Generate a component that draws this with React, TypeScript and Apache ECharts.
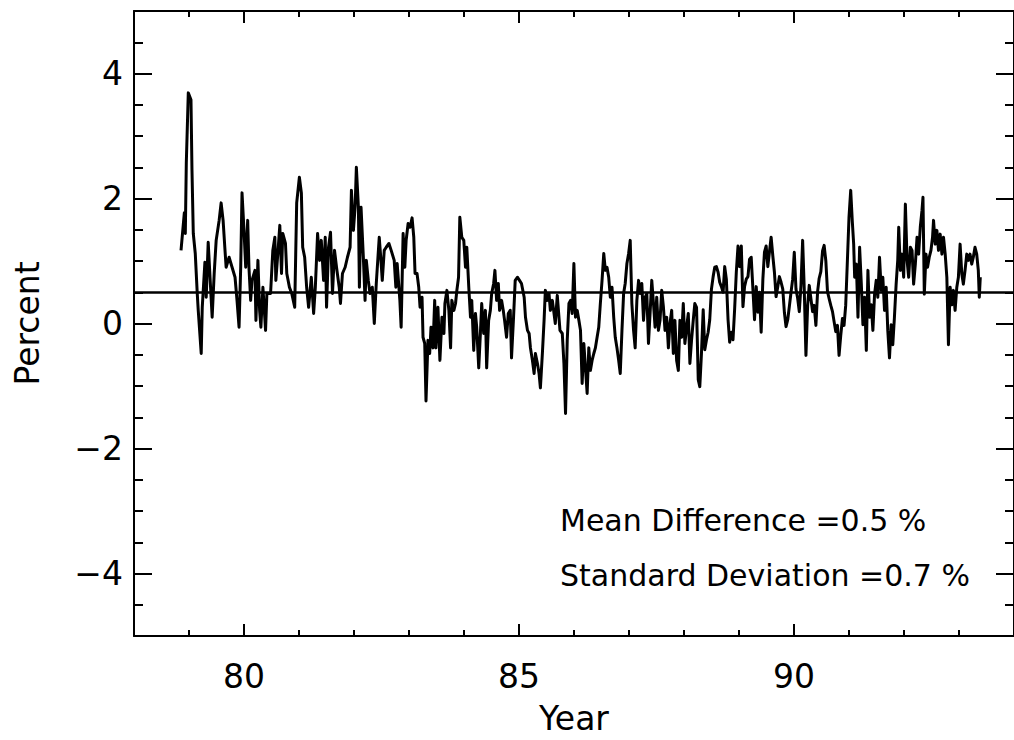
import React, { useEffect, useRef } from "react";
import * as echarts from "echarts";

// Time of each sample (decimal year, 19xx)
const years: number[] = [
  78.855, 78.915, 78.933, 78.951, 78.987, 79.036, 79.054, 79.078, 79.114, 79.150,
  79.168, 79.222, 79.241, 79.289, 79.313, 79.349, 79.398, 79.421, 79.458, 79.494,
  79.548, 79.584, 79.620, 79.651, 79.675, 79.729, 79.783, 79.837, 79.873, 79.910,
  79.940, 79.964, 80.000, 80.031, 80.067, 80.090, 80.121, 80.145, 80.199, 80.217,
  80.253, 80.284, 80.307, 80.344, 80.392, 80.416, 80.483, 80.524, 80.561, 80.579,
  80.615, 80.651, 80.682, 80.705, 80.754, 80.778, 80.826, 80.868, 80.922, 80.958,
  81.007, 81.043, 81.067, 81.103, 81.139, 81.175, 81.224, 81.266, 81.297, 81.338,
  81.374, 81.405, 81.447, 81.477, 81.501, 81.537, 81.573, 81.609, 81.646, 81.682,
  81.731, 81.754, 81.790, 81.839, 81.881, 81.929, 81.953, 81.989, 82.020, 82.043,
  82.080, 82.098, 82.128, 82.170, 82.201, 82.224, 82.260, 82.291, 82.333, 82.369,
  82.405, 82.459, 82.490, 82.514, 82.550, 82.586, 82.635, 82.676, 82.731, 82.761,
  82.785, 82.834, 82.857, 82.893, 82.924, 82.948, 82.984, 83.020, 83.056, 83.087,
  83.110, 83.146, 83.177, 83.201, 83.237, 83.255, 83.286, 83.309, 83.345, 83.376,
  83.400, 83.436, 83.467, 83.490, 83.526, 83.562, 83.599, 83.635, 83.653, 83.689,
  83.725, 83.756, 83.779, 83.816, 83.846, 83.870, 83.901, 83.924, 83.960, 83.996,
  84.027, 84.051, 84.087, 84.118, 84.141, 84.177, 84.208, 84.231, 84.268, 84.298,
  84.322, 84.358, 84.389, 84.412, 84.448, 84.479, 84.503, 84.539, 84.562, 84.593,
  84.624, 84.647, 84.684, 84.714, 84.738, 84.774, 84.805, 84.841, 84.864, 84.901,
  84.931, 84.973, 85.009, 85.045, 85.094, 85.118, 85.154, 85.184, 85.208, 85.244,
  85.275, 85.298, 85.335, 85.365, 85.389, 85.425, 85.456, 85.479, 85.515, 85.546,
  85.570, 85.606, 85.637, 85.660, 85.696, 85.745, 85.787, 85.817, 85.846, 85.877,
  85.908, 85.937, 85.967, 85.998, 86.027, 86.058, 86.089, 86.118, 86.148, 86.179,
  86.208, 86.239, 86.269, 86.298, 86.329, 86.360, 86.389, 86.420, 86.450, 86.479,
  86.510, 86.541, 86.570, 86.600, 86.631, 86.660, 86.691, 86.722, 86.750, 86.781,
  86.812, 86.841, 86.872, 86.902, 86.931, 86.962, 86.993, 87.022, 87.052, 87.083,
  87.112, 87.143, 87.174, 87.203, 87.233, 87.264, 87.293, 87.324, 87.354, 87.383,
  87.414, 87.445, 87.474, 87.504, 87.535, 87.564, 87.595, 87.626, 87.655, 87.685,
  87.716, 87.745, 87.776, 87.806, 87.835, 87.866, 87.897, 87.926, 87.957, 87.987,
  88.016, 88.047, 88.078, 88.107, 88.137, 88.168, 88.197, 88.228, 88.259, 88.287,
  88.318, 88.349, 88.378, 88.409, 88.439, 88.468, 88.499, 88.530, 88.559, 88.589,
  88.620, 88.649, 88.680, 88.711, 88.740, 88.770, 88.801, 88.830, 88.861, 88.891,
  88.920, 88.951, 88.982, 89.011, 89.042, 89.072, 89.101, 89.132, 89.163, 89.192,
  89.222, 89.253, 89.282, 89.313, 89.344, 89.372, 89.403, 89.434, 89.463, 89.494,
  89.524, 89.553, 89.584, 89.615, 89.644, 89.674, 89.705, 89.734, 89.765, 89.796,
  89.825, 89.855, 89.886, 89.915, 89.946, 89.976, 90.005, 90.036, 90.067, 90.096,
  90.127, 90.157, 90.186, 90.217, 90.248, 90.277, 90.307, 90.338, 90.367, 90.398,
  90.429, 90.457, 90.488, 90.519, 90.548, 90.579, 90.609, 90.638, 90.669, 90.700,
  90.729, 90.759, 90.790, 90.819, 90.850, 90.881, 90.910, 90.940, 90.971, 91.000,
  91.031, 91.061, 91.085, 91.103, 91.134, 91.163, 91.193, 91.224, 91.253, 91.284,
  91.315, 91.344, 91.374, 91.405, 91.434, 91.465, 91.495, 91.524, 91.555, 91.586,
  91.615, 91.646, 91.676, 91.705, 91.736, 91.767, 91.796, 91.826, 91.857, 91.886,
  91.904, 91.935, 91.966, 91.994, 92.025, 92.056, 92.085, 92.116, 92.146, 92.175,
  92.206, 92.237, 92.266, 92.296, 92.327, 92.345, 92.369, 92.400, 92.428, 92.459,
  92.490, 92.519, 92.537, 92.568, 92.598, 92.627, 92.658, 92.689, 92.718, 92.749,
  92.779, 92.808, 92.839, 92.870, 92.899, 92.929, 92.960, 92.989, 93.020, 93.051,
  93.079, 93.110, 93.141, 93.170, 93.201, 93.231, 93.260, 93.291, 93.322, 93.351,
  93.369, 93.387,
];

// Percent difference at each sample
const percent: number[] = [
  1.17, 1.77, 1.44, 2.57, 3.69, 3.58, 2.46, 1.44, 1.12, 0.48,
  0.21, -0.48, 0.26, 0.98, 0.42, 1.30, 0.48, 0.10, 0.80, 1.33,
  1.65, 1.93, 1.65, 1.22, 0.90, 1.06, 0.90, 0.74, 0.37, -0.06,
  0.90, 2.09, 1.49, 0.90, 1.65, 0.90, 0.37, 0.69, 0.85, 0.05,
  1.01, 0.21, -0.06, 0.58, -0.11, 0.48, 0.48, 1.17, 1.38, 0.69,
  1.12, 1.57, 0.80, 1.44, 1.28, 0.80, 0.58, 0.48, 0.26, 1.93,
  2.34, 2.09, 1.22, 1.06, 0.58, 0.26, 0.74, 0.16, 0.58, 1.44,
  1.01, 1.33, 0.69, 1.38, 0.26, 1.22, 1.46, 0.48, 1.17, 0.90,
  0.58, 0.32, 0.80, 0.90, 1.06, 1.22, 2.13, 1.49, 1.86, 2.50,
  1.86, 0.58, 1.86, 1.06, 0.37, 1.01, 0.69, 0.48, 0.58, 0.00,
  0.64, 1.38, 1.01, 0.69, 1.17, 1.22, 1.28, 1.17, 1.01, 0.58,
  0.96, 0.37, -0.06, 1.44, 0.90, 1.33, 1.60, 1.54, 1.69, 1.38,
  0.80, 0.80, 0.58, 0.26, 0.42, -0.22, -0.32, -1.24, -0.27, -0.48,
  -0.06, -0.39, 0.37, -0.39, 0.26, -0.59, 0.10, -0.16, 0.32, 0.53,
  0.21, -0.39, 0.37, 0.21, 0.32, 0.53, 0.74, 1.70, 1.38, 1.33,
  0.90, 1.22, 0.58, 0.10, 0.37, -0.43, 0.16, -0.06, -0.71, -0.16,
  0.32, -0.16, 0.21, -0.71, 0.05, 0.21, 0.48, 0.64, 0.85, 0.37,
  0.64, 0.21, 0.37, 0.21, 0.05, -0.22, 0.16, 0.21, -0.55, 0.10,
  0.69, 0.74, 0.69, 0.64, 0.42, 0.10, -0.11, -0.16, -0.39, -0.59,
  -0.80, -0.48, -0.64, -0.80, -1.03, -0.48, 0.05, 0.53, 0.37, 0.48,
  0.21, 0.37, 0.16, 0.00, 0.45, -0.11, -0.16, -0.64, -1.44, -0.27,
  0.32, 0.37, 0.16, 0.96, 0.10, 0.21, 0.05, -0.11, -0.96, -0.32,
  -0.71, -1.12, -0.39, -0.75, -0.59, -0.48, -0.39, -0.22, -0.06, 0.32,
  0.69, 1.12, 0.85, 0.90, 0.74, 0.42, 0.58, 0.10, -0.22, -0.39,
  -0.59, -0.80, -0.11, 0.48, 0.64, 0.96, 1.12, 1.33, 0.32, -0.11,
  -0.39, 0.37, 0.69, 0.48, 0.64, 0.05, 0.42, 0.48, -0.32, 0.16,
  0.69, 0.32, -0.06, 0.42, -0.11, 0.05, 0.53, 0.26, -0.11, 0.10,
  -0.39, 0.00, 0.21, -0.48, 0.05, -0.59, -0.75, 0.05, -0.22, 0.32,
  -0.32, -0.06, 0.16, -0.64, -0.27, 0.05, 0.32, 0.26, -0.90, -1.01,
  -0.47, 0.22, -0.42, -0.26, -0.14, 0.06, 0.55, 0.75, 0.90, 0.91,
  0.82, 0.66, 0.59, 0.50, 0.91, 0.71, 0.06, -0.30, -0.14, -0.26,
  0.22, 0.82, 1.24, 0.91, 1.24, 0.27, 0.59, 0.71, 0.75, 1.03,
  1.06, 0.55, 0.06, 0.59, 0.18, 0.50, -0.14, 0.71, 1.14, 1.24,
  0.91, 1.14, 1.38, 1.08, 0.82, 0.43, 0.59, 0.75, 0.66, 0.55,
  0.18, -0.05, 0.06, 0.27, 0.50, 0.71, 1.14, 0.55, 0.40, 0.19,
  0.61, 1.33, 0.56, -0.51, 0.29, 0.61, 0.40, 0.19, 0.29, -0.03,
  0.51, 0.72, 0.83, 1.16, 1.25, 1.00, 0.51, 0.40, 0.29, 0.19,
  0.03, -0.13, -0.03, -0.51, -0.19, 0.08, -0.03, 0.29, 1.01, 1.70,
  2.13, 1.62, 1.27, 0.74, 0.95, 0.10, 1.22, 0.63, -0.02, 0.42,
  -0.43, 0.85, 0.10, 0.30, -0.11, 0.47, 0.69, 0.42, 1.06, 0.53,
  0.74, 0.21, 0.58, -0.11, -0.55, -0.02, -0.34, 0.10, 0.63, 1.01,
  1.54, 0.85, 1.11, 0.74, 1.91, 1.01, 0.74, 1.22, 1.17, 0.63,
  0.95, 1.38, 1.11, 1.54, 1.81, 2.02, 0.47, 1.11, 0.90, 1.06,
  1.17, 1.38, 1.65, 1.27, 1.49, 1.17, 1.43, 1.11, 1.38, 1.11,
  0.74, -0.34, 0.58, 0.30, 0.53, 0.21, 0.58, 0.74, 1.27, 0.79,
  0.63, 0.85, 1.11, 1.01, 1.11, 0.95, 1.06, 1.22, 1.11, 0.85,
  0.42, 0.74,
];

const xMajorTicks: number[] = [80, 85, 90];
const yMajorTicks: number[] = [-4, -2, 0, 2, 4];
const meanDifference = 0.5;
const standardDeviation = 0.7;

const FONT = "DejaVu Sans";
const BLACK = "#000000";

function xAxisPair(position: "bottom" | "top", withLabels: boolean) {
  const base = { type: "value" as const, min: 78, max: 94, position, splitLine: { show: false } };
  return [
    {
      ...base,
      axisLine: { show: true, onZero: false, lineStyle: { color: BLACK, width: 2 } },
      axisTick: { show: true, inside: true, length: 12, customValues: xMajorTicks, lineStyle: { color: BLACK, width: 2 } },
      axisLabel: withLabels
        ? { show: true, customValues: xMajorTicks, margin: 24, color: BLACK, fontFamily: FONT, fontSize: 33 }
        : { show: false },
      ...(withLabels
        ? {
            name: "Year",
            nameLocation: "middle" as const,
            nameGap: 66,
            nameTextStyle: { color: BLACK, fontFamily: FONT, fontSize: 33 },
          }
        : {}),
    },
    {
      ...base,
      interval: 1,
      axisLine: { show: false, onZero: false },
      axisTick: { show: true, inside: true, length: 6, lineStyle: { color: BLACK, width: 2 } },
      axisLabel: { show: false },
    },
  ];
}

function yAxisPair(position: "left" | "right", withLabels: boolean) {
  const base = { type: "value" as const, min: -5, max: 5, position, splitLine: { show: false } };
  return [
    {
      ...base,
      axisLine: { show: true, onZero: false, lineStyle: { color: BLACK, width: 2 } },
      axisTick: { show: true, inside: true, length: 18, customValues: yMajorTicks, lineStyle: { color: BLACK, width: 2 } },
      axisLabel: withLabels
        ? {
            show: true,
            customValues: yMajorTicks,
            margin: 11,
            color: BLACK,
            fontFamily: FONT,
            fontSize: 33,
            formatter: (v: number) => (v < 0 ? "\u2212" + Math.abs(v) : String(v)),
          }
        : { show: false },
      ...(withLabels
        ? {
            name: "Percent",
            nameLocation: "middle" as const,
            nameGap: 90,
            nameTextStyle: { color: BLACK, fontFamily: FONT, fontSize: 33 },
          }
        : {}),
    },
    {
      ...base,
      interval: 0.5,
      axisLine: { show: false, onZero: false },
      axisTick: { show: true, inside: true, length: 9, lineStyle: { color: BLACK, width: 2 } },
      axisLabel: { show: false },
    },
  ];
}

export default function App() {
  const ref = useRef<HTMLDivElement | null>(null);

  useEffect(() => {
    if (!ref.current) return;
    const chart = echarts.init(ref.current, null, { renderer: "svg" });
    const points = years.map((y, i) => [y, percent[i]]);

    chart.setOption({
      animation: false,
      backgroundColor: "#ffffff",
      grid: { left: 134, top: 11, width: 884, height: 625, containLabel: false },
      xAxis: [...xAxisPair("bottom", true), ...xAxisPair("top", false)],
      yAxis: [...yAxisPair("left", true), ...yAxisPair("right", false)],
      series: [
        {
          type: "line",
          xAxisIndex: 0,
          yAxisIndex: 0,
          data: points,
          showSymbol: false,
          symbol: "none",
          lineStyle: { color: BLACK, width: 3, join: "round" },
          clip: true,
          markLine: {
            silent: true,
            symbol: ["none", "none"],
            label: { show: false },
            lineStyle: { color: BLACK, width: 2.5, type: "solid" },
            data: [{ yAxis: meanDifference }],
          },
        },
      ],
      graphic: [
        {
          type: "text",
          left: 560,
          top: 505,
          style: {
            text: `Mean Difference =${meanDifference} %`,
            fill: BLACK,
            font: `30px "${FONT}"`,
          },
        },
        {
          type: "text",
          left: 560,
          top: 560,
          style: {
            text: `Standard Deviation =${standardDeviation} %`,
            fill: BLACK,
            font: `30px "${FONT}"`,
          },
        },
      ],
    });

    return () => chart.dispose();
  }, []);

  return (
    <div
      ref={ref}
      style={{ position: "absolute", left: 0, top: 0, width: 1014, height: 740, background: "#fff" }}
    />
  );
}
